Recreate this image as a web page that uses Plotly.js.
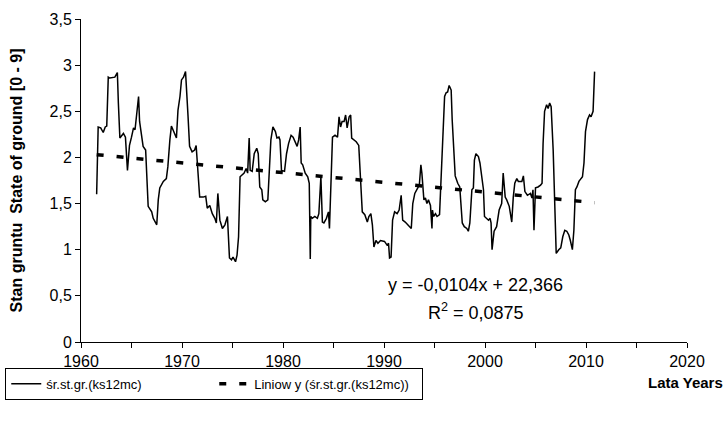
<!DOCTYPE html>
<html>
<head>
<meta charset="utf-8">
<script src="https://cdn.plot.ly/plotly-3.0.1.min.js"></script>
<style>
html, body { margin: 0; padding: 0; background: #ffffff; }
#chart { width: 726px; height: 426px; }
</style>
</head>
<body>
<div id="chart"></div>
<script>
// Series: 12-month moving average of ground state
const years = [
1961.55,1961.7,1961.95,1962.2,1962.4,1962.55,1962.7,1962.85,1963.35,1963.6,1963.7,1963.85,1964.2,1964.4,1964.6,1964.8,
1965.0,1965.2,1965.35,1965.5,1965.7,1965.8,1966.0,1966.15,1966.4,1966.65,1967.0,1967.15,1967.5,1967.65,1967.8,1968.15,
1968.45,1968.6,1968.8,1968.95,1969.45,1969.6,1969.8,1969.95,1970.15,1970.35,1970.6,1970.75,1971.0,1971.25,1971.4,1971.6,
1971.75,1972.1,1972.35,1972.5,1972.75,1973.0,1973.25,1973.4,1973.55,1973.75,1974.0,1974.25,1974.5,1974.7,1974.9,1975.05,
1975.3,1975.45,1975.6,1975.75,1975.95,1976.15,1976.35,1976.5,1976.65,1976.75,1976.95,1977.15,1977.4,1977.55,1977.7,1977.9,
1978.0,1978.25,1978.5,1978.65,1978.8,1979.0,1979.25,1979.4,1979.6,1979.7,1979.85,1980.15,1980.35,1980.55,1980.8,1981.0,
1981.2,1981.4,1981.55,1981.7,1981.8,1981.95,1982.2,1982.45,1982.6,1982.7,1982.75,1982.9,1983.15,1983.4,1983.55,1983.75,
1983.9,1984.05,1984.3,1984.5,1984.6,1984.7,1984.9,1985.15,1985.4,1985.55,1985.7,1985.85,1986.05,1986.2,1986.35,1986.55,
1986.7,1986.8,1987.05,1987.25,1987.5,1987.7,1987.85,1988.1,1988.35,1988.5,1988.7,1988.85,1989.0,1989.2,1989.4,1989.65,
1989.9,1990.05,1990.3,1990.45,1990.55,1990.7,1990.85,1991.05,1991.3,1991.5,1991.7,1991.85,1992.1,1992.4,1992.7,1992.85,
1993.05,1993.25,1993.5,1993.65,1993.75,1993.95,1994.1,1994.25,1994.4,1994.6,1994.75,1994.8,1994.9,1995.1,1995.25,1995.5,
1995.7,1995.85,1996.0,1996.15,1996.3,1996.45,1996.65,1996.75,1996.9,1997.05,1997.3,1997.5,1997.75,1997.95,1998.2,1998.35,
1998.5,1998.7,1998.85,1998.95,1999.1,1999.35,1999.5,1999.7,1999.85,1999.95,2000.15,2000.35,2000.5,2000.6,2000.7,2000.9,
2001.15,2001.4,2001.65,2001.8,2002.0,2002.15,2002.4,2002.65,2002.8,2002.95,2003.15,2003.3,2003.65,2003.8,2003.95,2004.2,
2004.5,2004.65,2004.75,2004.85,2005.0,2005.25,2005.5,2005.65,2005.75,2005.9,2006.1,2006.25,2006.4,2006.55,2006.75,2006.9,
2007.05,2007.3,2007.5,2007.7,2007.9,2008.1,2008.3,2008.45,2008.65,2008.8,2008.95,2009.1,2009.3,2009.5,2009.65,2009.8,
2009.95,2010.15,2010.35,2010.5,2010.7,2010.85
];
const values = [
1.60,2.33,2.32,2.27,2.33,2.34,2.87,2.86,2.87,2.92,2.59,2.21,2.26,2.22,1.86,2.13,
2.22,2.32,2.30,2.46,2.66,2.39,2.21,2.12,2.08,1.47,1.41,1.34,1.27,1.54,1.67,1.74,
1.77,1.90,2.19,2.34,2.21,2.51,2.66,2.84,2.87,2.93,2.44,2.12,2.06,2.08,2.13,1.83,
1.57,1.57,1.58,1.45,1.48,1.39,1.34,1.29,1.61,1.32,1.23,1.27,1.36,0.91,0.89,0.92,
0.87,0.94,1.14,1.79,1.81,1.83,1.88,1.83,2.21,1.86,1.85,2.04,2.10,2.04,1.68,1.65,
1.54,1.52,1.54,1.83,2.19,2.33,2.28,2.21,2.22,2.19,1.86,1.85,2.04,2.15,2.24,2.22,
2.17,2.12,2.19,2.33,1.94,1.92,1.83,1.79,1.72,0.90,1.36,1.34,1.36,1.34,1.39,1.79,
1.30,1.29,1.34,1.41,1.23,1.65,2.22,2.24,2.22,2.44,2.33,2.39,2.39,2.46,2.32,2.44,
2.46,2.21,2.19,2.17,2.13,1.79,1.41,1.38,1.30,1.36,1.39,1.27,1.03,1.10,1.07,1.10,
1.09,1.09,1.05,1.07,0.91,0.92,1.32,1.41,1.39,1.43,1.59,1.32,1.30,1.27,1.23,1.50,
1.61,1.65,1.70,1.92,1.83,1.54,1.56,1.50,1.54,1.48,1.23,1.43,1.36,1.39,1.36,1.38,
1.90,2.41,2.66,2.70,2.71,2.78,2.73,2.41,2.08,1.80,1.72,1.68,1.29,1.25,1.23,1.20,
1.29,1.65,1.67,1.97,2.04,2.01,1.94,1.79,1.65,1.36,1.34,1.32,1.34,1.29,1.00,1.20,
1.25,1.43,1.50,1.83,1.57,1.54,1.47,1.30,1.57,1.72,1.77,1.74,1.74,1.80,1.63,1.59,
1.61,1.56,1.65,1.21,1.67,1.68,1.70,1.72,2.15,2.50,2.57,2.53,2.59,2.55,2.08,1.54,
0.96,1.00,1.02,1.14,1.21,1.20,1.16,1.10,1.00,1.21,1.65,1.68,1.74,1.77,1.79,1.94,
2.28,2.41,2.46,2.44,2.50,2.93
];
// Linear trend end points
const trendYears = [1961.55, 2010.85];
const trendValues = [2.03, 1.51];

const seriesName = 'śr.st.gr.(ks12mc)';
const trendName = 'Liniow y (śr.st.gr.(ks12mc))';
const yTitle = 'Stan gruntu  State of ground [0 - 9]';
const xTitle = 'Lata Years';
const eqText = 'y = -0,0104x + 22,366';
const r2Text = 'R<sup>2</sup> = 0,0875';

const FONT = '"Liberation Sans", Arial, sans-serif';

const data = [
  { x: years, y: values, type: 'scatter', mode: 'lines', name: seriesName,
    line: { color: '#000000', width: 1.5 } },
  { x: trendYears, y: trendValues, type: 'scatter', mode: 'lines', name: trendName,
    line: { color: '#000000', width: 3.5, dash: '7px,13px' } }
];

const layout = {
  width: 726, height: 426,
  margin: { l: 81, r: 39, t: 19, b: 84, autoexpand: false },
  paper_bgcolor: '#ffffff', plot_bgcolor: '#ffffff',
  separators: ', ',
  font: { family: FONT, color: '#000000', size: 16 },
  showlegend: true,
  legend: {
    orientation: 'h', x: -0.125, xanchor: 'left', y: -0.08, yanchor: 'top',
    bordercolor: '#000000', borderwidth: 1, bgcolor: '#ffffff',
    entrywidth: 163, entrywidthmode: 'pixels',
    font: { family: FONT, size: 13, color: '#000000' }
  },
  xaxis: {
    range: [1960, 2020], dtick: 10, tick0: 1960, automargin: false,
    showgrid: false, zeroline: false, showline: true, linecolor: '#000', linewidth: 1,
    ticks: 'outside', ticklen: 5, tickcolor: '#000',
    minor: { dtick: 5, ticks: 'outside', ticklen: 5, tickcolor: '#000', showgrid: false },
    tickfont: { family: FONT, size: 16 }, fixedrange: true
  },
  yaxis: {
    range: [0, 3.5], dtick: 0.5, tick0: 0, automargin: false,
    showgrid: false, zeroline: false, showline: true, linecolor: '#000', linewidth: 1,
    ticks: 'outside', ticklen: 5, tickcolor: '#000',
    tickfont: { family: FONT, size: 16 },
    title: { text: yTitle, font: { family: FONT, size: 16, weight: 'bold' }, standoff: 22 },
    fixedrange: true
  },
  annotations: [
    { xref: 'paper', yref: 'paper', x: (685 - 81) / 606, y: (342 - 383) / 323,
      text: '<b>' + xTitle + '</b>', showarrow: false, xanchor: 'center', yanchor: 'middle',
      font: { family: FONT, size: 15 } },
    { xref: 'x', yref: 'y', x: 1999.1, y: 0.62, text: eqText, showarrow: false,
      xanchor: 'center', yanchor: 'middle', font: { family: FONT, size: 18 } },
    { xref: 'x', yref: 'y', x: 1999.1, y: 0.33, text: r2Text, showarrow: false,
      xanchor: 'center', yanchor: 'middle', font: { family: FONT, size: 18 } }
  ]
};

Plotly.newPlot('chart', data, layout, { staticPlot: true, displayModeBar: false });
</script>
</body>
</html>
